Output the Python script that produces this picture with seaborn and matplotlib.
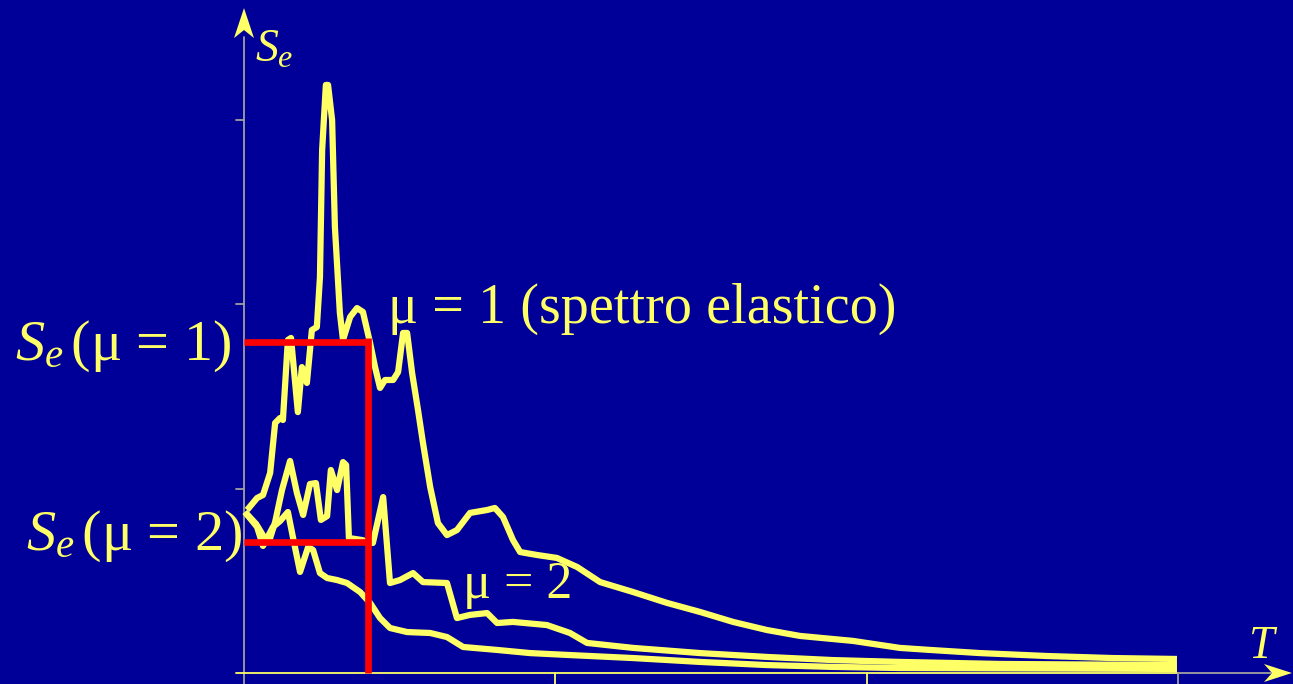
import numpy as np
import pandas as pd
import seaborn as sns
import matplotlib
matplotlib.use("Agg")
import matplotlib.pyplot as plt
from matplotlib.patches import Polygon
from matplotlib import transforms

# --- spectra: period T [s] vs spectral acceleration Se ---
t_mu1 = [0.010, 0.042, 0.061, 0.084, 0.100, 0.116, 0.125, 0.141, 0.151, 0.173,
         0.186, 0.202, 0.218, 0.234, 0.244, 0.251, 0.263, 0.270, 0.283, 0.292,
         0.308, 0.318, 0.341, 0.363, 0.382, 0.405, 0.421, 0.437, 0.453, 0.479,
         0.495, 0.511, 0.524, 0.540, 0.559, 0.575, 0.598, 0.623, 0.652, 0.684,
         0.726, 0.781, 0.806, 0.832, 0.864, 0.887, 0.941, 1.005, 1.070, 1.144,
         1.250, 1.359, 1.465, 1.571, 1.680, 1.786, 1.956, 2.107, 2.204, 2.364,
         2.580, 2.791, 2.997]
se_mu1 = [0.884, 0.949, 0.965, 1.085, 1.356, 1.383, 1.372, 1.806, 1.817, 1.415,
          1.659, 1.573, 1.860, 1.876, 2.147, 2.836, 3.189, 3.189, 2.999, 2.419,
          1.952, 1.806, 1.931, 1.979, 1.958, 1.790, 1.659, 1.546, 1.589, 1.589,
          1.632, 1.844, 1.844, 1.627, 1.426, 1.247, 1.009, 0.813, 0.748, 0.775,
          0.868, 0.884, 0.895, 0.846, 0.721, 0.656, 0.640, 0.624, 0.575, 0.493,
          0.439, 0.380, 0.331, 0.277, 0.233, 0.201, 0.174, 0.136, 0.125, 0.108,
          0.092, 0.081, 0.076]

t_mu2 = [0.003, 0.039, 0.064, 0.084, 0.100, 0.122, 0.148, 0.170, 0.190, 0.212,
         0.231, 0.247, 0.267, 0.279, 0.299, 0.318, 0.328, 0.337, 0.379, 0.414,
         0.447, 0.469, 0.501, 0.543, 0.575, 0.652, 0.684, 0.726, 0.781, 0.813,
         0.864, 0.973, 1.047, 1.102, 1.250, 1.465, 1.680, 1.892, 2.107, 2.429,
         2.997]
se_mu2 = [0.873, 0.808, 0.738, 0.732, 0.819, 0.992, 1.150, 0.976, 0.857, 1.025,
          1.030, 0.830, 0.851, 1.101, 0.992, 1.144, 1.128, 0.732, 0.721, 0.705,
          0.954, 0.488, 0.504, 0.542, 0.493, 0.488, 0.298, 0.315, 0.325, 0.271,
          0.277, 0.260, 0.217, 0.163, 0.136, 0.108, 0.087, 0.070, 0.060, 0.049,
          0.043]

t_mu3 = [0.003, 0.042, 0.061, 0.093, 0.116, 0.141, 0.157, 0.180, 0.206, 0.222,
         0.244, 0.267, 0.299, 0.331, 0.373, 0.405, 0.437, 0.469, 0.524, 0.598,
         0.652, 0.704, 0.813, 0.919, 1.038, 1.250, 1.465, 1.680, 1.892, 2.107,
         2.997]
se_mu3 = [0.873, 0.792, 0.689, 0.792, 0.824, 0.873, 0.738, 0.548, 0.683, 0.667,
          0.542, 0.515, 0.504, 0.488, 0.439, 0.380, 0.298, 0.244, 0.222, 0.217,
          0.195, 0.141, 0.125, 0.108, 0.098, 0.081, 0.060, 0.043, 0.033, 0.027,
          0.022]

# design reading: period and the two spectral ordinates
t_star = 0.397
se_elastic = 1.795
se_ductile = 0.710

x_ticks = [1, 2, 3]
y_ticks = [1, 2, 3]

BG = "#000099"
YEL = "#FFFF66"
AXIS_GREY = "#A0A0A0"
RED = "#FF0000"

sns.set_theme(style="white")
plt.rcParams["font.family"] = ["Liberation Serif", "DejaVu Serif"]
plt.rcParams["mathtext.fontset"] = "custom"
plt.rcParams["mathtext.rm"] = "Liberation Serif"
plt.rcParams["mathtext.it"] = "Liberation Serif:italic"

fig = plt.figure(figsize=(12.93, 6.84), dpi=100, facecolor=BG)
ax = fig.add_axes([0, 0, 1, 1], facecolor=BG)
ax.set_xlim(-0.7838, 3.3697)
ax.set_ylim(-0.0597, 3.6497)
ax.set_axis_off()

frames = [
    pd.DataFrame({"T": t_mu1, "Se": se_mu1, "curve": "mu1"}),
    pd.DataFrame({"T": t_mu2, "Se": se_mu2, "curve": "mu2"}),
    pd.DataFrame({"T": t_mu3, "Se": se_mu3, "curve": "mu3"}),
]
df = pd.concat(frames, ignore_index=True)
sns.lineplot(data=df, x="T", y="Se", hue="curve",
             palette={"mu1": YEL, "mu2": YEL, "mu3": YEL},
             units="curve", estimator=None, sort=False, legend=False,
             linewidth=4.5, ax=ax, zorder=3)
for ln in ax.lines:
    ln.set_solid_joinstyle("round")
    ln.set_solid_capstyle("butt")

# axes drawn as arrows
ax.plot([0, 0], [-0.0597, 3.45], color=AXIS_GREY, lw=1.3, zorder=2)
ax.plot([-0.025, 3.0], [0, 0], color=YEL, lw=1.3, zorder=2)
ax.plot([3.0, 3.30], [0, 0], color=AXIS_GREY, lw=1.3, zorder=2)
for yt in y_ticks:
    ax.plot([-0.025, 0], [yt, yt], color=AXIS_GREY, lw=1.3, zorder=2)
for xt in x_ticks:
    ax.plot([xt, xt], [0, -0.0597], color=YEL if xt < 3 else AXIS_GREY,
            lw=1.3, zorder=2)

def arrow_head(x, y, verts):
    tr = fig.dpi_scale_trans + transforms.ScaledTranslation(x, y, ax.transData)
    ax.add_patch(Polygon(verts, closed=True, transform=tr, facecolor=YEL,
                         edgecolor="none", zorder=4, clip_on=False))

arrow_head(0.0, 3.606, [(0, 0), (-0.10, -0.30), (0, -0.22), (0.10, -0.30)])
arrow_head(3.3665, 0.0, [(0, 0), (-0.28, 0.09), (-0.20, 0), (-0.28, -0.09)])

# design reading in red
ax.plot([0, t_star], [se_elastic, se_elastic], color=RED, lw=4.8,
        solid_capstyle="butt", zorder=5)
ax.plot([0, t_star], [se_ductile, se_ductile], color=RED, lw=4.8,
        solid_capstyle="butt", zorder=5)
ax.plot([t_star, t_star], [0, se_elastic + 0.02], color=RED, lw=4.8,
        solid_capstyle="butt", zorder=5)

# labels
ax.text(0.035, 3.313, r"$S_e$", color=YEL, fontsize=33, ha="left", va="baseline")
ax.text(3.225, 0.081, r"$T$", color=YEL, fontsize=33, ha="left", va="baseline")
ax.text(-0.039, 1.697, r"$S_e\,$(μ = 1)", color=YEL, fontsize=42,
        ha="right", va="baseline")
ax.text(-0.006, 0.667, r"$S_e\,$(μ = 2)", color=YEL, fontsize=42,
        ha="right", va="baseline")
ax.text(0.463, 1.898, "μ = 1 (spettro elastico)", color=YEL, fontsize=40.5,
        ha="left", va="baseline")
ax.text(0.703, 0.407, "μ = 2", color=YEL, fontsize=37.5, ha="left", va="baseline")

fig.savefig("out.png", dpi=100, facecolor=BG)
